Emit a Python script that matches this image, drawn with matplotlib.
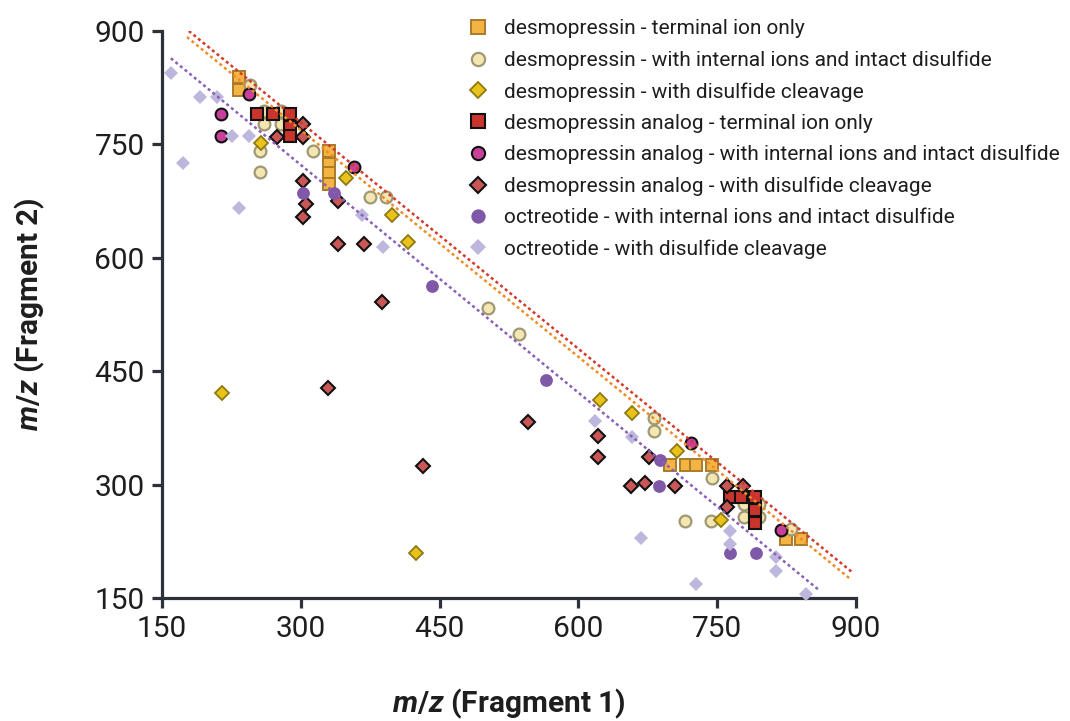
import numpy as np
import matplotlib
matplotlib.use("Agg")
import matplotlib.pyplot as plt

plt.rcParams['font.family'] = ['Roboto', 'DejaVu Sans']
plt.rcParams['mathtext.fontset'] = 'custom'
plt.rcParams['mathtext.it'] = 'Roboto:italic:bold'
plt.rcParams['mathtext.rm'] = 'Roboto:bold'
plt.rcParams['mathtext.bf'] = 'Roboto:bold'

# desmopressin - terminal ion only
des_term_x = [233, 233, 330.5, 330.5, 330.5, 330.5, 699, 716, 727, 744, 824, 840.5]
des_term_y = [839, 822, 741, 724, 712.5, 697, 326, 326, 326, 326, 228, 228]
# desmopressin - internal ions, intact disulfide
des_int_x = [245, 260.5, 278.5, 260.5, 278.5, 256, 256, 313, 375, 392, 502.5, 536,
             682, 682, 744, 779, 795.5, 779, 795.5, 715.5, 743.5, 829.5]
des_int_y = [828.5, 794.5, 794.5, 776.5, 776.5, 741.5, 713, 741.5, 680, 680, 533, 499,
             388.5, 371.5, 309, 274, 274, 256.5, 256.5, 252, 252, 241]
# desmopressin - disulfide cleavage
des_cleav_x = [257.5, 349, 399, 416, 215, 424.5, 623, 657.5, 707, 754]
des_cleav_y = [752, 705, 656.5, 621, 421, 210, 412, 395, 345, 253]
# desmopressin analog - terminal ion only
ana_term_x = [253, 270, 288, 288, 288, 764, 775.5, 791, 791, 791]
ana_term_y = [790, 790, 790, 772.5, 761, 284, 284, 284, 266.5, 249]
# desmopressin analog - internal ions, intact disulfide
ana_int_x = [244, 214, 214, 358, 721.5, 818.5]
ana_int_y = [817, 790, 761.5, 720.5, 354.5, 239.5]
# desmopressin analog - disulfide cleavage
ana_cleav_x = [302.5, 274, 302.5, 302.5, 340.5, 305.5, 302.5, 340.5, 368, 387.5, 329.5,
               432.5, 545, 621, 621, 676.5, 656.5, 672, 704, 760.5, 778, 760.5]
ana_cleav_y = [776.5, 759.5, 759.5, 701.5, 675, 671, 654.5, 618, 618, 542, 428,
               325, 383, 364.5, 337, 337, 298, 301.5, 298, 298, 298, 270]
# octreotide - internal ions, intact disulfide
oct_int_x = [302.5, 336, 442, 565, 688, 687.5, 764, 791.5]
oct_int_y = [686, 686, 562.5, 438, 332.5, 298, 209, 209]
# octreotide - disulfide cleavage
oct_cleav_x = [159.5, 191, 209, 225.5, 244, 173, 233.5, 366, 388.5, 618, 657.5,
               764, 764, 814, 814, 668, 727, 846.5]
oct_cleav_y = [845, 813, 813, 761, 761, 725, 665.5, 656.5, 614.5, 384.5, 362.5,
               239, 221.5, 204.5, 186, 229, 168.5, 155.5]

# precursor trend lines (endpoints)
red_line_x, red_line_y = [179, 897], [900, 183]
orange_line_x, orange_line_y = [177, 893], [892, 176]
purple_line_x, purple_line_y = [159.5, 859], [864, 161.5]

labels = [
    "desmopressin - terminal ion only",
    "desmopressin - with internal ions and intact disulfide",
    "desmopressin - with disulfide cleavage",
    "desmopressin analog - terminal ion only",
    "desmopressin analog - with internal ions and intact disulfide",
    "desmopressin analog - with disulfide cleavage",
    "octreotide - with internal ions and intact disulfide",
    "octreotide - with disulfide cleavage",
]

fig = plt.figure(figsize=(10.7, 7.21), dpi=100)
ax = fig.add_axes([162/1070, 1 - 598/721, 694/1070, 567/721])

series = [
    (des_term_x, des_term_y, 's', 8.5, '#f5b342', '#a87b2c', 1.4),
    (des_int_x, des_int_y, 'o', 8.5, '#f3e6b0', '#9e9874', 1.6),
    (des_cleav_x, des_cleav_y, 'D', 7.2, '#e9c21a', '#8e7a12', 1.3),
    (ana_term_x, ana_term_y, 's', 8.5, '#c9352c', '#111111', 1.5),
    (ana_int_x, ana_int_y, 'o', 8.5, '#c8409a', '#111111', 1.5),
    (ana_cleav_x, ana_cleav_y, 'D', 7.2, '#c95757', '#111111', 1.5),
    (oct_int_x, oct_int_y, 'o', 9.2, '#7f58a7', 'none', 0),
    (oct_cleav_x, oct_cleav_y, 'D', 7.6, '#bdb7dd', 'none', 0),
]
handles = []
for (x, y, m, ms, fc, ec, ew), lab in zip(series, labels):
    h, = ax.plot(x, y, ls='none', marker=m, ms=ms, mfc=fc, mec=ec, mew=ew,
                 label=lab, zorder=3, clip_on=False)
    handles.append(h)

dots = (0, (1.2, 1.2))
ax.plot(red_line_x, red_line_y, color='#d23b2b', lw=1.8, ls=dots, zorder=4)
ax.plot(orange_line_x, orange_line_y, color='#f08c28', lw=1.8, ls=dots, zorder=4)
ax.plot(purple_line_x, purple_line_y, color='#8a60b8', lw=1.8, ls=dots, zorder=4)

ax.set_xlim(150, 900)
ax.set_ylim(150, 900)
ticks = [150, 300, 450, 600, 750, 900]
ax.set_xticks(ticks)
ax.set_yticks(ticks)

spine_color = '#2d323a'
for s in ['top', 'right']:
    ax.spines[s].set_visible(False)
for s in ['left', 'bottom']:
    ax.spines[s].set_color(spine_color)
    ax.spines[s].set_linewidth(2.3)
ax.tick_params(direction='out', length=7.5, width=2.3, color=spine_color,
               labelsize=21.5, labelcolor='#1e1e1e', pad=5)

ax.set_xlabel(r'$m/z$ (Fragment 1)', fontsize=21.5, fontweight='bold', color='#1e1e1e')
ax.set_ylabel(r'$m/z$ (Fragment 2)', fontsize=21.5, fontweight='bold', color='#1e1e1e')
ax.xaxis.set_label_coords(0.5, -0.157)
ax.yaxis.set_label_coords(-0.165, 0.5)

fig.legend(handles=handles, loc='upper left', bbox_to_anchor=(467.5/1070, 1 - 19.5/721),
           frameon=False, fontsize=15.0, handlelength=1.0, handletextpad=0.75,
           labelspacing=0.58, borderpad=0, borderaxespad=0, markerscale=1.12,
           labelcolor='#1e1e1e')

fig.savefig('out.png', dpi=100)
